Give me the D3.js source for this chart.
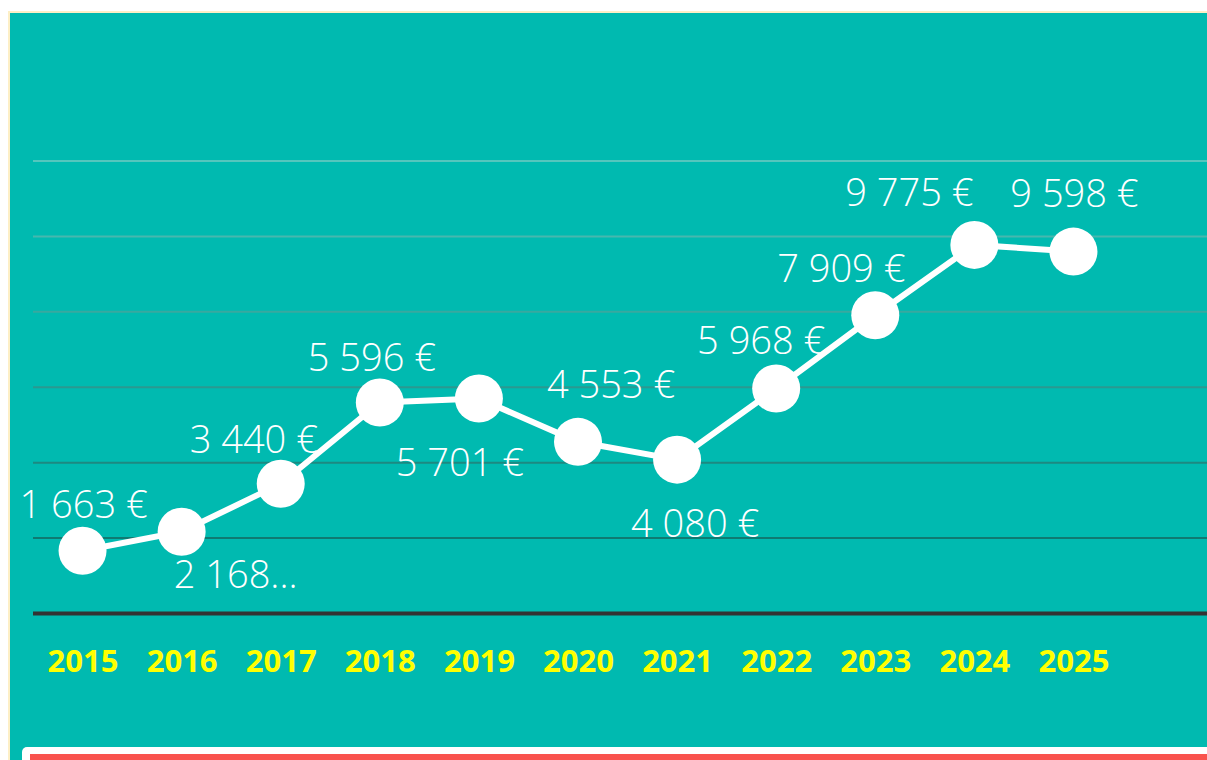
<!DOCTYPE html>
<html>
<head>
<meta charset="utf-8">
<script src="https://cdn.jsdelivr.net/npm/d3@7"></script>
<style>
  html, body { margin: 0; padding: 0; background: #fff; }
  svg { display: block; }
</style>
</head>
<body>
<div id="chart"></div>
<script>
// data
var years = ["2015", "2016", "2017", "2018", "2019", "2020", "2021", "2022", "2023", "2024", "2025"];
var amounts = [1663, 2168, 3440, 5596, 5701, 4553, 4080, 5968, 7909, 9775, 9598];
var yTicks = [0, 2000, 4000, 6000, 8000, 10000, 12000];
var truncatedYears = ["2016"];

// label placement (layout, not data): offset of each value label from its point
var labelDx = [1, 54, -27, -8, -19, 33, 18, -15, -34, -65, 1];
var labelDy = [-33, 56, -31, -31, 77, -44, 77, -34, -33, -39, -45];

// 0.size
var W = 1207, H = 760;
var plot = {left: 33, right: 1123, top: 161, bottom: 613.5};

var teal = "#00bab0";

var svg = d3.select("#chart").append("svg")
    .attr("width", W).attr("height", H);

// frame
svg.append("rect").attr("x", 8).attr("y", 11).attr("width", W).attr("height", H)
    .attr("fill", "#fdefc6");
svg.append("rect").attr("x", 10).attr("y", 13).attr("width", W).attr("height", H)
    .attr("fill", teal);

// scales
var xScale = d3.scalePoint()
    .domain(years)
    .range([plot.left, plot.right])
    .padding(0.5);

var yScale = d3.scaleLinear()
    .domain([0, d3.max(yTicks)])
    .range([plot.bottom, plot.top]);

// gridlines, lighter at the top, darker toward the axis
var gridColor = d3.interpolateRgb("#55c6bd", "#0f7a72");
var gridTicks = yTicks.filter(function(d) { return d > 0; });
svg.append("g").selectAll("line")
    .data(gridTicks)
    .enter().append("line")
    .attr("x1", plot.left).attr("x2", W)
    .attr("y1", function(d) { return yScale(d); })
    .attr("y2", function(d) { return yScale(d); })
    .attr("stroke", function(d, i) { return gridColor(1 - i / (gridTicks.length - 1)); })
    .attr("stroke-width", 2);

// baseline
svg.append("line")
    .attr("x1", plot.left).attr("x2", W)
    .attr("y1", yScale(0)).attr("y2", yScale(0))
    .attr("stroke", "#333")
    .attr("stroke-width", 4);

// x axis labels
var xAxis = svg.append("g")
    .attr("transform", "translate(0," + yScale(0) + ")")
    .call(d3.axisBottom(xScale).tickSize(0).tickPadding(0));
xAxis.select(".domain").remove();
xAxis.selectAll("text")
    .attr("y", 58)
    .attr("dy", 0)
    .attr("fill", "#ffff00")
    .attr("font-family", "'Open Sans', sans-serif")
    .attr("font-weight", "bold")
    .attr("font-size", 31);

// line
var points = years.map(function(y, i) { return {year: y, value: amounts[i], i: i}; });
var line = d3.line()
    .x(function(d) { return xScale(d.year); })
    .y(function(d) { return yScale(d.value); });

svg.append("path")
    .datum(points)
    .attr("d", line)
    .attr("fill", "none")
    .attr("stroke", "#fff")
    .attr("stroke-width", 6);

svg.append("g").selectAll("circle")
    .data(points)
    .enter().append("circle")
    .attr("cx", function(d) { return xScale(d.year); })
    .attr("cy", function(d) { return yScale(d.value); })
    .attr("r", 24)
    .attr("fill", "#fff");

// value labels
var locale = d3.formatLocale({decimal: ",", thousands: " ", grouping: [3], currency: ["", " €"]});
var fmt = locale.format("$,.0f");

svg.append("g").selectAll("text")
    .data(points)
    .enter().append("text")
    .attr("x", function(d) { return xScale(d.year) + labelDx[d.i]; })
    .attr("y", function(d) { return yScale(d.value) + labelDy[d.i]; })
    .attr("text-anchor", "middle")
    .attr("fill", "#fff")
    .attr("font-family", "'Open Sans', sans-serif")
    .attr("font-weight", 300)
    .attr("font-size", 38)
    .text(function(d) {
        var s = fmt(d.value);
        if (truncatedYears.indexOf(d.year) >= 0) s = s.replace(" €", "...");
        return s;
    });

// bottom card
svg.append("rect").attr("x", 22).attr("y", 747).attr("width", W).attr("height", 40)
    .attr("rx", 5).attr("fill", "#fff");
svg.append("rect").attr("x", 30).attr("y", 754).attr("width", W).attr("height", 20)
    .attr("fill", "#f9524d");
</script>
</body>
</html>
